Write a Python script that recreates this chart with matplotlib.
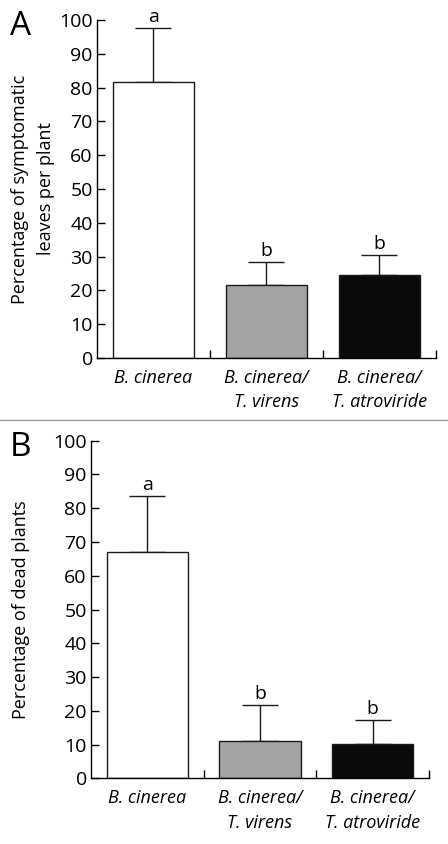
import numpy as np
import matplotlib
matplotlib.use("Agg")
import matplotlib.pyplot as plt
from matplotlib.lines import Line2D

plt.rcParams['font.family'] = ['Open Sans', 'DejaVu Sans']

categories = ["B. cinerea", "B. cinerea/\nT. virens", "B. cinerea/\nT. atroviride"]
bar_colors = ["#ffffff", "#a3a3a3", "#0a0a0a"]

# panel A: symptomatic leaves
leaves_mean = [81.7, 21.5, 24.6]
leaves_err = [15.8, 6.8, 5.9]
leaves_letters = ["a", "b", "b"]

# panel B: dead plants
dead_mean = [67.0, 11.0, 10.3]
dead_err = [16.6, 10.8, 6.9]
dead_letters = ["a", "b", "b"]

fig = plt.figure(figsize=(4.48, 8.44), dpi=100)


def panel(rect, means, errs, letters, ylabel, tag, label_x):
    ax = fig.add_axes(rect)
    x = np.arange(len(means))
    ax.bar(x, means, width=0.72, color=bar_colors, edgecolor="#1a1a1a", linewidth=1.0, zorder=2)
    ax.errorbar(x, means, yerr=[np.zeros(len(errs)), errs], fmt="none",
                ecolor="#1a1a1a", elinewidth=1.0, capsize=13, capthick=1.0, zorder=1)
    for xi, m, e, l in zip(x, means, errs, letters):
        ax.annotate(l, (xi, m + e), xytext=(0, 1.5), textcoords="offset points",
                    ha="center", va="bottom", fontsize=14)
    ax.set_xlim(-0.5, 2.5)
    ax.set_ylim(0, 100)
    ax.set_yticks(np.arange(0, 101, 10))
    ax.set_xticks([0.5, 1.5, 2.5])
    ax.set_xticklabels([])
    ax.set_xticks(x, minor=True)
    ax.set_xticklabels(categories, minor=True, fontstyle="italic", fontsize=13,
                       linespacing=1.45)
    ax.tick_params(axis="x", which="minor", length=0, pad=8)
    ax.tick_params(axis="x", which="major", direction="in", length=6, width=1)
    ax.tick_params(axis="y", direction="in", length=6, width=1, labelsize=14, pad=3)
    for s in ["top", "right"]:
        ax.spines[s].set_visible(False)
    for s in ["left", "bottom"]:
        ax.spines[s].set_linewidth(1.0)
    ax.set_ylabel(ylabel, fontsize=13, linespacing=1.55)
    ax.yaxis.set_label_coords(label_x, 0.5)
    fig.text(0.022, rect[1] + rect[3] - 0.008, tag, fontsize=24, va="center", ha="left")
    return ax


panel([0.2165, 0.5758, 0.7565, 0.4005], leaves_mean, leaves_err, leaves_letters,
      "Percentage of symptomatic\nleaves per plant", "A", -0.125)
panel([0.203, 0.0778, 0.7546, 0.4000], dead_mean, dead_err, dead_letters,
      "Percentage of dead plants", "B", -0.18)

fig.add_artist(Line2D([0, 1], [1 - 420 / 844, 1 - 420 / 844], color="#999999", linewidth=1.0))

fig.savefig("out.png", dpi=100)
